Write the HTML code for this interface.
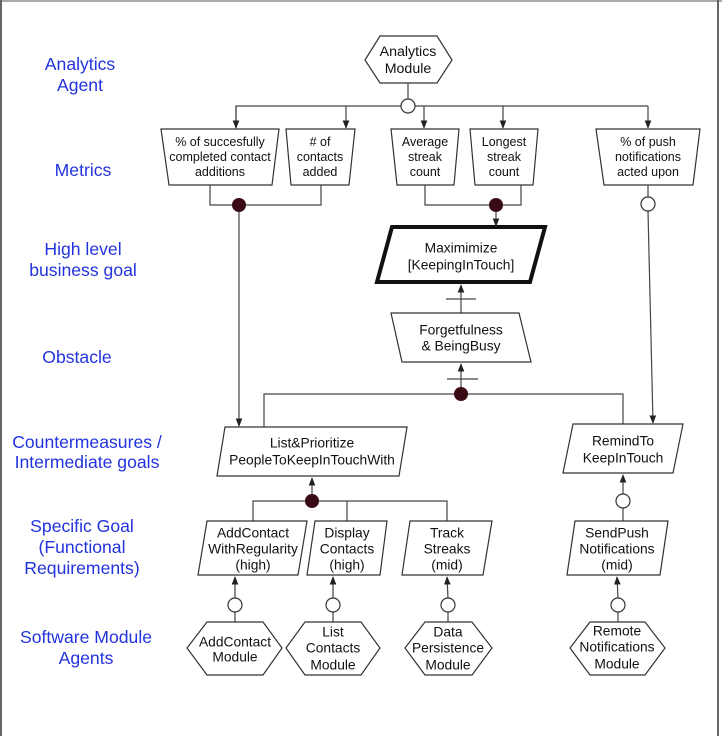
<!DOCTYPE html>
<html><head><meta charset="utf-8"><style>
html,body{margin:0;padding:0;background:#fff}
svg{display:block}
text{font-family:"Liberation Sans",Arial,sans-serif}
.l{fill:#2233dd;font-size:17.6px;text-anchor:middle;dominant-baseline:central}
.t{fill:#111;font-size:13.8px;text-anchor:middle;dominant-baseline:central}
.m{fill:#111;font-size:12.5px;text-anchor:middle;dominant-baseline:central}
.s{fill:#fff;stroke:#333;stroke-width:1.2}
.ln{stroke:#444;stroke-width:1.2;fill:none}
</style></head><body>
<svg width="722" height="736" viewBox="0 0 722 736" xmlns="http://www.w3.org/2000/svg">
<defs><marker id="a" viewBox="0 0 10 10" refX="9" refY="5" markerWidth="7" markerHeight="7" orient="auto"><path d="M0,1 L10,5 L0,9 z" fill="#222"/></marker></defs>
<rect x="0" y="0" width="722" height="2" fill="#aaa"/>
<rect x="0" y="0" width="2" height="736" fill="#666"/>
<rect x="717" y="0" width="2" height="736" fill="#666"/>

<!-- left labels -->
<text class="l" x="80" y="64">Analytics</text><text class="l" x="80" y="85">Agent</text>
<text class="l" x="83" y="170">Metrics</text>
<text class="l" x="83" y="249">High level</text><text class="l" x="83" y="270">business goal</text>
<text class="l" x="77" y="357">Obstacle</text>
<text class="l" x="87" y="442">Countermeasures /</text><text class="l" x="87" y="462">Intermediate goals</text>
<text class="l" x="82" y="526">Specific Goal</text><text class="l" x="82" y="547">(Functional</text><text class="l" x="82" y="568">Requirements)</text>
<text class="l" x="86" y="637">Software Module</text><text class="l" x="86" y="658">Agents</text>

<!-- analytics module -->
<polygon class="s" points="365,60 380,36 437,36 452,60 437,83 380,83"/>
<text class="t" x="408" y="52" style="font-size:14.2px">Analytics</text><text class="t" x="408" y="69" style="font-size:14.2px">Module</text>
<line class="ln" x1="408" y1="83" x2="408" y2="99"/>
<polyline class="ln" points="236,128 236,106 503,106"/>
<line class="ln" x1="503" y1="106" x2="648" y2="106"/>
<line class="ln" x1="648" y1="106" x2="648" y2="128" marker-end="url(#a)"/>
<line class="ln" x1="236" y1="106" x2="236" y2="128" marker-end="url(#a)"/>
<line class="ln" x1="346" y1="106" x2="346" y2="128" marker-end="url(#a)"/>
<line class="ln" x1="424" y1="106" x2="424" y2="128" marker-end="url(#a)"/>
<line class="ln" x1="503" y1="106" x2="503" y2="128" marker-end="url(#a)"/>
<circle cx="408" cy="106" r="7" fill="#fff" stroke="#333" stroke-width="1.2"/>

<!-- metrics -->
<polygon class="s" points="161,129 279,129 272,185 169,185"/>
<text class="m" x="220" y="142">% of succesfully</text><text class="m" x="220" y="157">completed contact</text><text class="m" x="220" y="172">additions</text>
<polygon class="s" points="286,129 355,129 349,185 291,185"/>
<text class="m" x="320" y="142"># of</text><text class="m" x="320" y="157">contacts</text><text class="m" x="320" y="172">added</text>
<polygon class="s" points="391,129 459,129 454,185 397,185"/>
<text class="m" x="425" y="142">Average</text><text class="m" x="425" y="157">streak</text><text class="m" x="425" y="172">count</text>
<polygon class="s" points="470,129 538,129 533,185 475,185"/>
<text class="m" x="504" y="142">Longest</text><text class="m" x="504" y="157">streak</text><text class="m" x="504" y="172">count</text>
<polygon class="s" points="596,129 700,129 693,185 604,185"/>
<text class="m" x="648" y="142">% of push</text><text class="m" x="648" y="157">notifications</text><text class="m" x="648" y="172">acted upon</text>

<!-- AND 1 -->
<polyline class="ln" points="210,185 210,205 321,205 321,185"/>
<line class="ln" x1="239" y1="205" x2="239" y2="426" marker-end="url(#a)"/>
<circle cx="239" cy="205" r="7" fill="#3a0a14"/>
<!-- AND 2 -->
<polyline class="ln" points="425,185 425,205 521,205 521,185"/>
<line class="ln" x1="496" y1="205" x2="496" y2="226" marker-end="url(#a)"/>
<circle cx="496" cy="205" r="7" fill="#3a0a14"/>
<!-- push -->
<line class="ln" x1="648" y1="185" x2="648" y2="197"/>
<line class="ln" x1="648" y1="211" x2="653" y2="423" marker-end="url(#a)"/>
<circle cx="648" cy="204" r="7" fill="#fff" stroke="#333" stroke-width="1.2"/>

<!-- Maximize -->
<polygon points="392,227 545,227 530,282 377,282" fill="#fff" stroke="#111" stroke-width="4"/>
<text class="t" x="461" y="248">Maximimize</text><text class="t" x="461" y="265">[KeepingInTouch]</text>
<line class="ln" x1="461" y1="313" x2="461" y2="285" marker-end="url(#a)"/>
<line class="ln" x1="446" y1="299" x2="476" y2="299"/>
<!-- Forgetfulness -->
<polygon class="s" points="391,313 519,313 531,362 402,362"/>
<text class="t" x="461" y="330">Forgetfulness</text><text class="t" x="461" y="346">&amp; BeingBusy</text>
<line class="ln" x1="461" y1="394" x2="461" y2="364" marker-end="url(#a)"/>
<line class="ln" x1="447" y1="379" x2="478" y2="379"/>
<polyline class="ln" points="264,427 264,394 623,394 623,424"/>
<circle cx="461" cy="394" r="7" fill="#3a0a14"/>

<!-- List & Remind -->
<polygon class="s" points="225,427 407,427 399,476 217,476"/>
<text class="t" x="312" y="443">List&amp;Prioritize</text><text class="t" x="312" y="460">PeopleToKeepInTouchWith</text>
<polygon class="s" points="573,424 683,424 673,473 563,473"/>
<text class="t" x="623" y="441">RemindTo</text><text class="t" x="623" y="458">KeepInTouch</text>

<!-- AND 3 -->
<line class="ln" x1="312" y1="501" x2="312" y2="478" marker-end="url(#a)"/>
<polyline class="ln" points="253,521 253,501 447,501 447,521"/>
<line class="ln" x1="347" y1="501" x2="347" y2="521"/>
<circle cx="312" cy="501" r="7" fill="#3a0a14"/>
<!-- remind OR -->
<line class="ln" x1="623" y1="494" x2="623" y2="475" marker-end="url(#a)"/>
<line class="ln" x1="623" y1="508" x2="623" y2="521"/>
<circle cx="623" cy="501" r="7" fill="#fff" stroke="#333" stroke-width="1.2"/>

<!-- specific goals -->
<polygon class="s" points="207,521 307,521 298,575 198,575"/>
<text class="t" x="253" y="533">AddContact</text><text class="t" x="253" y="549">WithRegularity</text><text class="t" x="253" y="565">(high)</text>
<polygon class="s" points="315,521 387,521 380,575 307,575"/>
<text class="t" x="347" y="533">Display</text><text class="t" x="347" y="549">Contacts</text><text class="t" x="347" y="565">(high)</text>
<polygon class="s" points="410,521 492,521 483,575 402,575"/>
<text class="t" x="447" y="533">Track</text><text class="t" x="447" y="549">Streaks</text><text class="t" x="447" y="565">(mid)</text>
<polygon class="s" points="575,521 668,521 660,575 567,575"/>
<text class="t" x="617" y="533">SendPush</text><text class="t" x="617" y="549">Notifications</text><text class="t" x="617" y="565">(mid)</text>

<!-- bottom connectors -->
<g>
<line class="ln" x1="235" y1="598" x2="235" y2="577" marker-end="url(#a)"/><line class="ln" x1="235" y1="612" x2="235" y2="622"/><circle cx="235" cy="605" r="7" fill="#fff" stroke="#333" stroke-width="1.2"/>
<line class="ln" x1="333" y1="598" x2="333" y2="577" marker-end="url(#a)"/><line class="ln" x1="333" y1="612" x2="333" y2="622"/><circle cx="333" cy="605" r="7" fill="#fff" stroke="#333" stroke-width="1.2"/>
<line class="ln" x1="448" y1="598" x2="447" y2="577" marker-end="url(#a)"/><line class="ln" x1="448" y1="612" x2="448" y2="622"/><circle cx="448" cy="605" r="7" fill="#fff" stroke="#333" stroke-width="1.2"/>
<line class="ln" x1="618" y1="598" x2="617" y2="577" marker-end="url(#a)"/><line class="ln" x1="618" y1="612" x2="618" y2="622"/><circle cx="618" cy="605" r="7" fill="#fff" stroke="#333" stroke-width="1.2"/>
</g>

<!-- module hexagons -->
<polygon class="s" points="187,648 207,622 263,622 282,648 263,675 207,675"/>
<text class="t" x="235" y="642">AddContact</text><text class="t" x="235" y="657">Module</text>
<polygon class="s" points="286,648 305,622 361,622 380,648 361,675 305,675"/>
<text class="t" x="333" y="632">List</text><text class="t" x="333" y="648">Contacts</text><text class="t" x="333" y="665">Module</text>
<polygon class="s" points="405,648 425,622 472,622 492,648 472,675 425,675"/>
<text class="t" x="448" y="632">Data</text><text class="t" x="448" y="648">Persistence</text><text class="t" x="448" y="665">Module</text>
<polygon class="s" points="570,648 590,622 645,622 665,648 645,675 590,675"/>
<text class="t" x="617" y="631">Remote</text><text class="t" x="617" y="647">Notifications</text><text class="t" x="617" y="664">Module</text>
</svg>
</body></html>
